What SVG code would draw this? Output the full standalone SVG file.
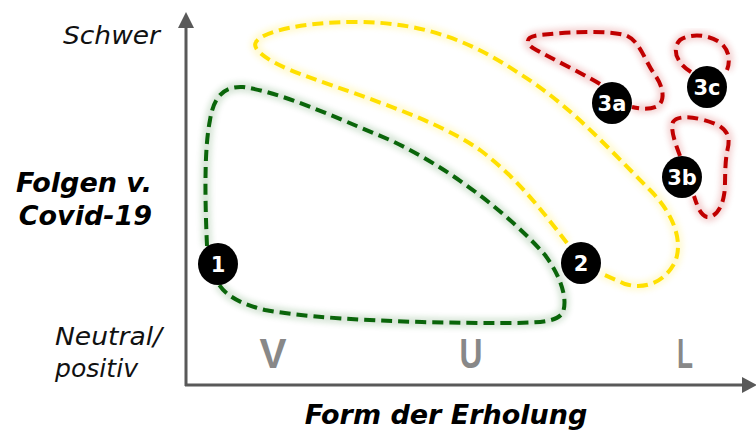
<svg xmlns="http://www.w3.org/2000/svg" width="756" height="435" viewBox="0 0 756 435">
<defs>
<filter id="glow" x="-20%" y="-20%" width="140%" height="140%"><feGaussianBlur stdDeviation="3"/></filter>
<style>
.ax{stroke:#595959;stroke-width:3;fill:none}
.axh{fill:#595959}
.lbl{font-family:"DejaVu Sans",sans-serif;font-style:italic;font-size:24px;fill:#111}
.ttl{font-family:"DejaVu Sans",sans-serif;font-style:italic;font-weight:bold;font-size:27px;fill:#000}
.cat{font-family:"Liberation Sans",Arial,sans-serif;font-weight:bold;font-size:42px;fill:#888888}
.loop{fill:none;stroke-width:4;stroke-dasharray:11 6}
.halo{fill:none;stroke-width:9;opacity:0.18;filter:url(#glow)}
.g{stroke:#0A650A}
.y{stroke:#FFE000}
.r{stroke:#C00000}
.node ellipse{fill:#000}
.node text{font-family:"DejaVu Sans",sans-serif;font-weight:bold;font-size:21px;fill:#fff;text-anchor:middle}
</style>
</defs>
<rect width="756" height="435" fill="#fff"/>

<g id="axes">
<line class="ax" x1="186" y1="386" x2="186" y2="27"/>
<polygon class="axh" points="178,28 194,28 186,12"/>
<line class="ax" x1="185" y1="385" x2="743" y2="385"/>
<polygon class="axh" points="742,377 742,393 757,385"/>
</g>

<g id="labels">
<text class="lbl" x="63" y="44" textLength="97" lengthAdjust="spacingAndGlyphs">Schwer</text>
<text class="ttl" x="152" y="192" text-anchor="end">Folgen v.</text>
<text class="ttl" x="152" y="225" text-anchor="end">Covid-19</text>
<text class="lbl" x="55" y="345" textLength="107" lengthAdjust="spacingAndGlyphs">Neutral/</text>
<text class="lbl" x="55" y="377" textLength="83" lengthAdjust="spacingAndGlyphs">positiv</text>
<text class="cat" x="273" y="368" text-anchor="middle" textLength="27" lengthAdjust="spacingAndGlyphs">V</text>
<text class="cat" x="471" y="368" text-anchor="middle" textLength="23" lengthAdjust="spacingAndGlyphs">U</text>
<text class="cat" x="685" y="368" text-anchor="middle" textLength="16" lengthAdjust="spacingAndGlyphs">L</text>
<text class="ttl" x="446" y="424" text-anchor="middle">Form der Erholung</text>
</g>

<g id="connectors">
<g id="loop-green">
<path class="halo g" d="M207,246 C205,200 204,150 210,120 C214,95 225,86 243,87 C280,92 330,115 390,140 C450,168 510,215 545,255 C560,275 568,298 563,312 C558,322 540,323 500,323 C420,323 320,320 265,310 C240,304 225,295 218,283"/>
<path class="loop g" d="M207,246 C205,200 204,150 210,120 C214,95 225,86 243,87 C280,92 330,115 390,140 C450,168 510,215 545,255 C560,275 568,298 563,312 C558,322 540,323 500,323 C420,323 320,320 265,310 C240,304 225,295 218,283"/>
</g>
<g id="loop-yellow">
<path class="halo y" d="M567,243 C545,215 520,180 480,150 C430,115 340,90 290,70 C262,58 252,48 256,42 C262,32 300,22 357,22 C420,22 470,40 520,74 C570,105 610,150 650,190 C672,212 684,240 675,262 C665,282 645,290 625,284 L600,273"/>
<path class="loop y" d="M567,243 C545,215 520,180 480,150 C430,115 340,90 290,70 C262,58 252,48 256,42 C262,32 300,22 357,22 C420,22 470,40 520,74 C570,105 610,150 650,190 C672,212 684,240 675,262 C665,282 645,290 625,284 L600,273"/>
</g>
<g id="loop-3a">
<path class="halo r" d="M600,84 C580,72 550,58 533,48 C524,42 527,36 540,35 C570,32 605,30 625,35 C640,40 645,62 655,75 C664,88 665,100 658,106 C650,110 640,109 632,107"/>
<path class="loop r" d="M600,84 C580,72 550,58 533,48 C524,42 527,36 540,35 C570,32 605,30 625,35 C640,40 645,62 655,75 C664,88 665,100 658,106 C650,110 640,109 632,107"/>
</g>
<g id="loop-3c">
<path class="halo r" d="M691,72 C675,62 672,48 680,40 C690,33 710,34 722,44 C730,52 730,62 727,70"/>
<path class="loop r" d="M691,72 C675,62 672,48 680,40 C690,33 710,34 722,44 C730,52 730,62 727,70"/>
</g>
<g id="loop-3b">
<path class="halo r" d="M680,156 C676,145 670,130 673,122 C678,114 700,117 718,125 C730,132 730,140 727,152 C724,170 726,185 724,195 C722,208 715,218 707,217 C700,215 697,205 694,196"/>
<path class="loop r" d="M680,156 C676,145 670,130 673,122 C678,114 700,117 718,125 C730,132 730,140 727,152 C724,170 726,185 724,195 C722,208 715,218 707,217 C700,215 697,205 694,196"/>
</g>
</g>

<g id="node-1" class="node"><ellipse cx="218" cy="264" rx="20" ry="21"/><text x="218" y="272">1</text></g>
<g id="node-2" class="node"><ellipse cx="581" cy="263" rx="20" ry="21"/><text x="581" y="271">2</text></g>
<g id="node-3a" class="node"><ellipse cx="612" cy="103" rx="20" ry="21"/><text x="612" y="111">3a</text></g>
<g id="node-3b" class="node"><ellipse cx="682" cy="177" rx="20" ry="21"/><text x="682" y="185">3b</text></g>
<g id="node-3c" class="node"><ellipse cx="707" cy="87" rx="20" ry="21"/><text x="707" y="95">3c</text></g>
</svg>
